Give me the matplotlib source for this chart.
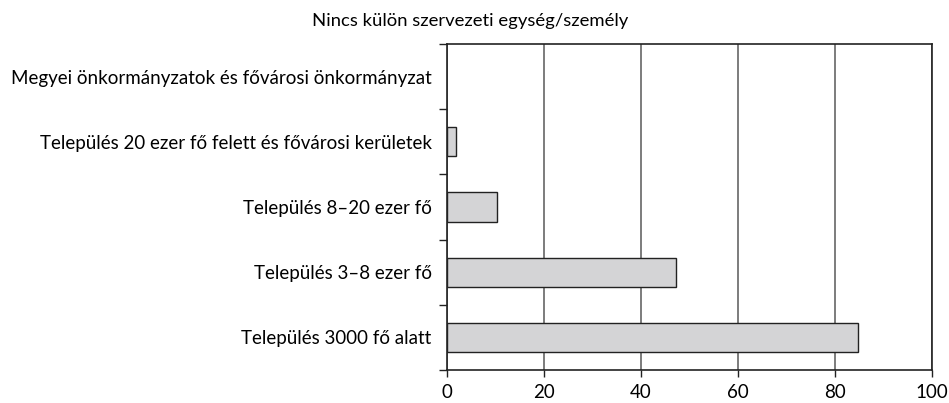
import matplotlib.pyplot as plt
import numpy as np

plt.rcParams['font.family'] = ['Lato', 'DejaVu Sans']

# Adatok (felülről lefelé)
kategoriak = [
    'Megyei önkormányzatok és fővárosi önkormányzat',
    'Település 20 ezer fő felett és fővárosi kerületek',
    'Település 8–20 ezer fő',
    'Település 3–8 ezer fő',
    'Település 3000 fő alatt',
]
ertekek = [0.0, 1.9, 10.3, 47.3, 84.7]
cim = 'Nincs külön szervezeti egység/személy'

fig = plt.figure(figsize=(9.49, 4.03), dpi=100)
ax = fig.add_axes([447 / 949, 1 - 370 / 403, 485 / 949, 326 / 403])

y = np.arange(len(kategoriak))[::-1]
vals = np.array(ertekek)
lathato = vals > 0  # a nulla értékű sáv nem látszik
ax.barh(y[lathato], vals[lathato], height=0.45, color='#d4d4d6',
        edgecolor='#222222', linewidth=1, zorder=3)

ax.set_xlim(0, 100)
ax.set_ylim(-0.5, len(kategoriak) - 0.5)
ax.set_xticks([0, 20, 40, 60, 80, 100])
ax.tick_params(axis='x', labelsize=13.5, length=5, width=1, color='#222222', pad=5)
ax.set_yticks(y)
ax.set_yticklabels(kategoriak, fontsize=13.5)
ax.tick_params(axis='y', length=0, pad=11)
# y osztásjelek a kategóriák határain
ax.set_yticks(np.arange(-0.5, len(kategoriak), 1), minor=True)
ax.tick_params(axis='y', which='minor', length=6, width=1, color='#222222')

ax.xaxis.grid(True, color='#666666', linewidth=1.2)
ax.set_axisbelow(True)
for s in ['left', 'bottom', 'top', 'right']:
    ax.spines[s].set_color('#222222')
    ax.spines[s].set_linewidth(1.2)

fig.text(470 / 949, 1 - 21 / 403, cim, ha='center', va='center', fontsize=13.3)

fig.savefig('out.png', dpi=100)
